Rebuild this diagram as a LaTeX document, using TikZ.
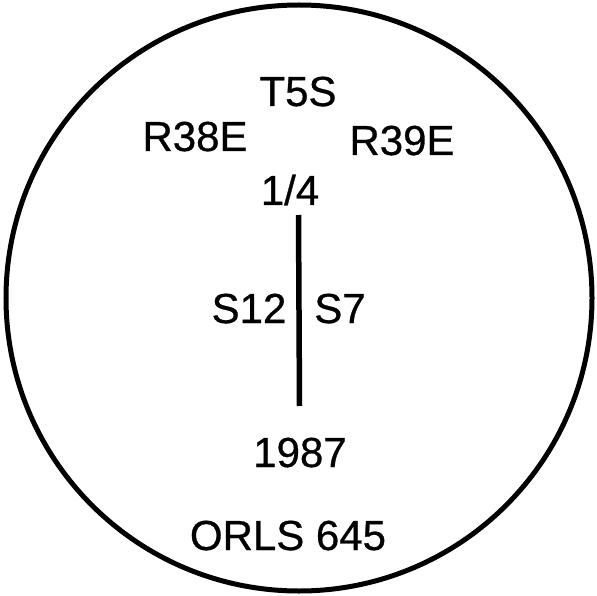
\documentclass[tikz,border=0pt]{standalone}
\usepackage{fontspec}
\setmainfont{Liberation Sans}
\newfontfamily\heavyfont[FakeBold=0.7]{Liberation Sans}
\begin{document}
\begin{tikzpicture}[x=1pt,y=-1pt,
  lbl/.style={anchor=base,inner sep=0pt,font=\heavyfont\fontsize{42}{42}\selectfont},
  ink/.style={line width=5pt,black}]
\useasboundingbox (0,0) rectangle (597,596);
\fill[white] (0,0) rectangle (597,596);
\draw[ink] (299,298) circle[radius=293];
\node[lbl] (t5s) at (298,106) {T5S};
\node[lbl] (r38e) at (195,151) {R38E};
\node[lbl] (r39e) at (402,155) {R39E};
\node[lbl] (q) at (290,205) {1/4};
\node[lbl] (s12) at (249,323) {S12};
\node[lbl] (s7) at (340,323) {S7};
\node[lbl] (yr) at (300,467) {1987};
\node[lbl] (orls) at (288,550) {ORLS 645};
\coordinate (ltop) at (298.5,215);
\coordinate (lbot) at (299.5,406);
\draw[ink,line width=5.5pt] (ltop) -- (lbot);
\end{tikzpicture}
\end{document}
